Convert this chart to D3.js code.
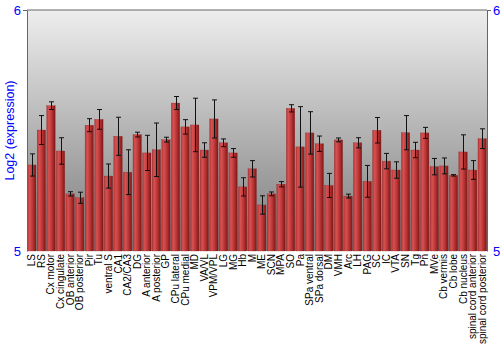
<!DOCTYPE html>
<html><head><meta charset="utf-8">
<script src="https://cdn.jsdelivr.net/npm/d3@7"></script>
<style>body{margin:0;background:#fff}svg{display:block}</style>
</head><body>
<script>
const categories = ["LS","RS","Cx motor","Cx cingulate","OB anterior","OB posterior","Pir","Tu","ventral S","CA1","CA2/CA3","DG","A anterior","A posterior","GP","CPu lateral","CPu medial","MD","VA/VL","VPM/VPL","LG","MG","Hb","M","ME","SCN","MPA","SO","Pa","SPa ventral","SPa dorsal","DM","VMH","Arc","LH","PAG","SC","IC","VTA","SN","Tg","Pn","MVe","Cb vermis","Cb lobe","Cb nucleus","spinal cord anterior","spinal cord posterior"];
const values = [5.357,5.502,5.603,5.415,5.237,5.221,5.522,5.546,5.311,5.476,5.327,5.483,5.407,5.420,5.462,5.614,5.515,5.523,5.419,5.548,5.449,5.407,5.266,5.341,5.191,5.237,5.277,5.592,5.432,5.490,5.445,5.272,5.461,5.228,5.449,5.289,5.501,5.373,5.336,5.491,5.419,5.490,5.350,5.353,5.314,5.411,5.336,5.466];
const errors = [0.046,0.060,0.016,0.055,0.009,0.023,0.027,0.041,0.050,0.079,0.093,0.010,0.073,0.111,0.010,0.027,0.030,0.111,0.030,0.079,0.016,0.018,0.038,0.034,0.038,0.008,0.011,0.015,0.167,0.088,0.032,0.050,0.008,0.008,0.021,0.066,0.053,0.032,0.034,0.071,0.032,0.023,0.034,0.033,0.003,0.071,0.039,0.041];
const yTicks = [5, 6];
const yLabel = "Log2 (expression)";

const W = 500, H = 350;
const m = {left: 27, right: 13, top: 10, bottom: 99};
const svg = d3.select("body").append("svg").attr("width", W).attr("height", H);
const defs = svg.append("defs");
const bg = defs.append("linearGradient").attr("id","bg").attr("x1",0).attr("y1",0).attr("x2",0).attr("y2",1);
bg.append("stop").attr("offset","0%").attr("stop-color","#eeeeee");
bg.append("stop").attr("offset","100%").attr("stop-color","#7a7a7a");
const bar = defs.append("linearGradient").attr("id","bar").attr("x1",0).attr("y1",0).attr("x2",1).attr("y2",0);
bar.append("stop").attr("offset","0%").attr("stop-color","#b83535");
bar.append("stop").attr("offset","25%").attr("stop-color","#d65252");
bar.append("stop").attr("offset","60%").attr("stop-color","#bb3535");
bar.append("stop").attr("offset","100%").attr("stop-color","#7d1717");

const x = d3.scaleBand().domain(categories).range([m.left, W - m.right]).paddingInner(0.12).paddingOuter(0.06);
const y = d3.scaleLinear().domain([5, 6]).range([H - m.bottom, m.top]);

svg.append("rect").attr("x", m.left).attr("y", m.top).attr("width", W - m.left - m.right).attr("height", H - m.top - m.bottom).attr("fill","url(#bg)");

svg.append("g").selectAll("rect").data(categories).join("rect")
  .attr("x", d => x(d)).attr("width", x.bandwidth())
  .attr("y", (d,i) => y(values[i])).attr("height", (d,i) => y(5) - y(values[i]))
  .attr("fill","url(#bar)").attr("stroke","#8a2a2a").attr("stroke-width",0.3);

const eb = svg.append("g").attr("stroke","#111").attr("stroke-width",1);
categories.forEach((c,i) => {
  const cx = Math.round(x(c) + x.bandwidth()/2) + 0.5;
  const y1 = y(values[i] + errors[i]), y2 = y(values[i] - errors[i]);
  eb.append("line").attr("x1",cx).attr("x2",cx).attr("y1",y1).attr("y2",y2);
  eb.append("line").attr("x1",cx-2.5).attr("x2",cx+2.5).attr("y1",y1).attr("y2",y1);
  eb.append("line").attr("x1",cx-2.5).attr("x2",cx+2.5).attr("y1",y2).attr("y2",y2);
});

// frame
svg.append("line").attr("x1",m.left).attr("x2",W-m.right).attr("y1",m.top).attr("y2",m.top).attr("stroke","#666");

const la = svg.append("g").attr("transform",`translate(${m.left},0)`).call(d3.axisLeft(y).tickValues(yTicks).tickFormat(d3.format("d")).tickSize(4).tickSizeOuter(0));
const ra = svg.append("g").attr("transform",`translate(${W-m.right},0)`).call(d3.axisRight(y).tickValues(yTicks).tickFormat(d3.format("d")).tickSize(4).tickSizeOuter(0));
[la, ra].forEach(g => {
  g.select(".domain").attr("stroke","#666");
  g.selectAll(".tick line").attr("stroke","#666").attr("opacity", d => d === 6 ? 1 : 0);
  g.selectAll(".tick text").attr("fill","#0000ff").style("font-family","'Liberation Sans', Arial, sans-serif").style("font-size","13px");
});
la.selectAll(".tick text").attr("x",-6);
ra.selectAll(".tick text").attr("x",6);

svg.append("text").attr("transform",`translate(14,${(m.top + H - m.bottom)/2}) rotate(-90)`)
  .attr("text-anchor","middle").attr("fill","#0000ff")
  .style("font-family","'Liberation Sans', Arial, sans-serif").style("font-size","12.5px").text(yLabel);

svg.append("g").selectAll("text").data(categories).join("text")
  .attr("transform", d => `translate(${x(d) + x.bandwidth()/2 + 3.5},${H - m.bottom + 3}) rotate(-90)`)
  .attr("text-anchor","end")
  .style("font-family","'Liberation Sans', Arial, sans-serif").style("font-size","10px").attr("fill","#000")
  .text(d => d);
</script>
</body></html>
